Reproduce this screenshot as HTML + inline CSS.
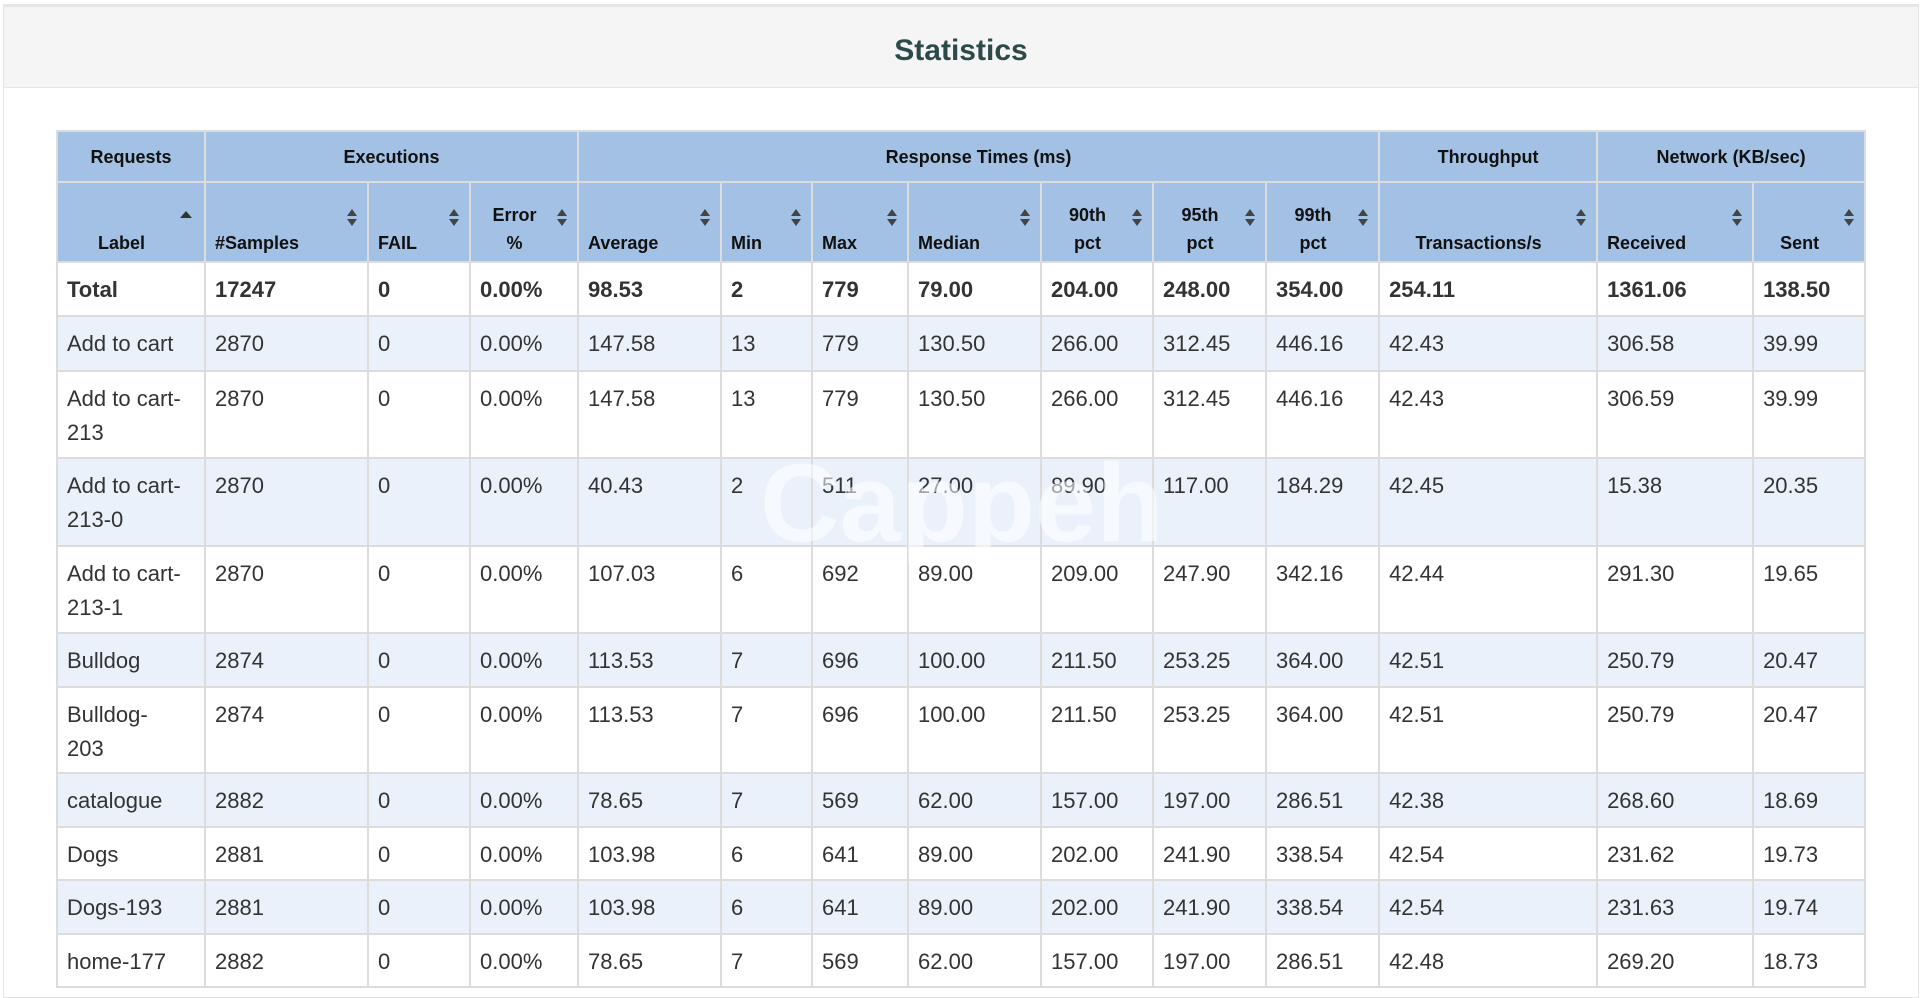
<!DOCTYPE html>
<html><head><meta charset="utf-8"><style>
html,body{margin:0;padding:0;width:1920px;height:986px;overflow:hidden;background:#fff;font-family:"Liberation Sans",Arial,sans-serif;}
.panel{position:absolute;left:3px;top:4px;width:1914px;height:990px;border:1px solid #e3e3e3;border-top:3px solid #e6e6e6;}
.hd{height:80px;background:#f5f5f5;border-bottom:1px solid #e6e6e6;text-align:center;line-height:88px;font-size:30px;font-weight:bold;color:#2c4a4a;}
table{position:absolute;left:56px;top:130px;border-collapse:collapse;table-layout:fixed;width:1808px;font-size:22px;color:#333;}
td,th{border:2px solid #dcdcdc;padding:0 9px;vertical-align:top;line-height:34px;}
th{background:#a3c1e5;color:#111;font-size:18px;font-weight:bold;position:relative;}
tr.g th{text-align:center;vertical-align:middle;height:49px;padding:0;}
tr.c th{text-align:left;vertical-align:bottom;height:74px;line-height:28px;padding-bottom:4px;padding-right:28px;}
tr.c th.cc{text-align:center;}
td{padding-top:10px;}
tr.odd td{background:#eaf1fa;}
tr.tot td{font-weight:bold;}
.s{position:absolute;right:10px;top:26px;width:10px;height:20px;}
.s:before{content:"";position:absolute;left:0;top:0;border-left:5px solid transparent;border-right:5px solid transparent;border-bottom:7px solid #444;}
.s:after{content:"";position:absolute;left:0;top:10px;border-left:5px solid transparent;border-right:5px solid transparent;border-top:7px solid #444;}
.u{position:absolute;right:12px;top:28px;border-left:6px solid transparent;border-right:6px solid transparent;border-bottom:7px solid #333;}
.wm{position:absolute;left:760px;top:440px;font-size:110px;font-weight:bold;color:rgba(255,255,255,0.55);pointer-events:none;}
</style></head><body>
<div class="panel"><div class="hd">Statistics</div></div>
<table>
<colgroup><col style="width:148px"><col style="width:163px"><col style="width:102px"><col style="width:108px"><col style="width:143px"><col style="width:91px"><col style="width:96px"><col style="width:133px"><col style="width:112px"><col style="width:113px"><col style="width:113px"><col style="width:218px"><col style="width:156px"><col style="width:112px"></colgroup>
<tr class="g"><th>Requests</th><th colspan="3">Executions</th><th colspan="7">Response Times (ms)</th><th>Throughput</th><th colspan="2">Network (KB/sec)</th></tr>
<tr class="c"><th class="cc">Label<span class="u"></span></th><th>#Samples<span class="s"></span></th><th>FAIL<span class="s"></span></th><th class="cc">Error<br>%<span class="s"></span></th><th>Average<span class="s"></span></th><th>Min<span class="s"></span></th><th>Max<span class="s"></span></th><th>Median<span class="s"></span></th><th class="cc">90th<br>pct<span class="s"></span></th><th class="cc">95th<br>pct<span class="s"></span></th><th class="cc">99th<br>pct<span class="s"></span></th><th class="cc">Transactions/s<span class="s"></span></th><th>Received<span class="s"></span></th><th class="cc">Sent<span class="s"></span></th></tr>
<tr class="tot" style="height:54px"><td>Total</td><td>17247</td><td>0</td><td>0.00%</td><td>98.53</td><td>2</td><td>779</td><td>79.00</td><td>204.00</td><td>248.00</td><td>354.00</td><td>254.11</td><td>1361.06</td><td>138.50</td></tr>
<tr class="odd" style="height:55px"><td>Add to cart</td><td>2870</td><td>0</td><td>0.00%</td><td>147.58</td><td>13</td><td>779</td><td>130.50</td><td>266.00</td><td>312.45</td><td>446.16</td><td>42.43</td><td>306.58</td><td>39.99</td></tr>
<tr style="height:87px"><td>Add to cart-<br>213</td><td>2870</td><td>0</td><td>0.00%</td><td>147.58</td><td>13</td><td>779</td><td>130.50</td><td>266.00</td><td>312.45</td><td>446.16</td><td>42.43</td><td>306.59</td><td>39.99</td></tr>
<tr class="odd" style="height:88px"><td>Add to cart-<br>213-0</td><td>2870</td><td>0</td><td>0.00%</td><td>40.43</td><td>2</td><td>511</td><td>27.00</td><td>89.90</td><td>117.00</td><td>184.29</td><td>42.45</td><td>15.38</td><td>20.35</td></tr>
<tr style="height:87px"><td>Add to cart-<br>213-1</td><td>2870</td><td>0</td><td>0.00%</td><td>107.03</td><td>6</td><td>692</td><td>89.00</td><td>209.00</td><td>247.90</td><td>342.16</td><td>42.44</td><td>291.30</td><td>19.65</td></tr>
<tr class="odd" style="height:54px"><td>Bulldog</td><td>2874</td><td>0</td><td>0.00%</td><td>113.53</td><td>7</td><td>696</td><td>100.00</td><td>211.50</td><td>253.25</td><td>364.00</td><td>42.51</td><td>250.79</td><td>20.47</td></tr>
<tr style="height:86px"><td>Bulldog-<br>203</td><td>2874</td><td>0</td><td>0.00%</td><td>113.53</td><td>7</td><td>696</td><td>100.00</td><td>211.50</td><td>253.25</td><td>364.00</td><td>42.51</td><td>250.79</td><td>20.47</td></tr>
<tr class="odd" style="height:54px"><td>catalogue</td><td>2882</td><td>0</td><td>0.00%</td><td>78.65</td><td>7</td><td>569</td><td>62.00</td><td>157.00</td><td>197.00</td><td>286.51</td><td>42.38</td><td>268.60</td><td>18.69</td></tr>
<tr style="height:53px"><td>Dogs</td><td>2881</td><td>0</td><td>0.00%</td><td>103.98</td><td>6</td><td>641</td><td>89.00</td><td>202.00</td><td>241.90</td><td>338.54</td><td>42.54</td><td>231.62</td><td>19.73</td></tr>
<tr class="odd" style="height:54px"><td>Dogs-193</td><td>2881</td><td>0</td><td>0.00%</td><td>103.98</td><td>6</td><td>641</td><td>89.00</td><td>202.00</td><td>241.90</td><td>338.54</td><td>42.54</td><td>231.63</td><td>19.74</td></tr>
<tr style="height:53px"><td>home-177</td><td>2882</td><td>0</td><td>0.00%</td><td>78.65</td><td>7</td><td>569</td><td>62.00</td><td>157.00</td><td>197.00</td><td>286.51</td><td>42.48</td><td>269.20</td><td>18.73</td></tr>
</table>
<div class="wm">Cappeh</div>
</body></html>
